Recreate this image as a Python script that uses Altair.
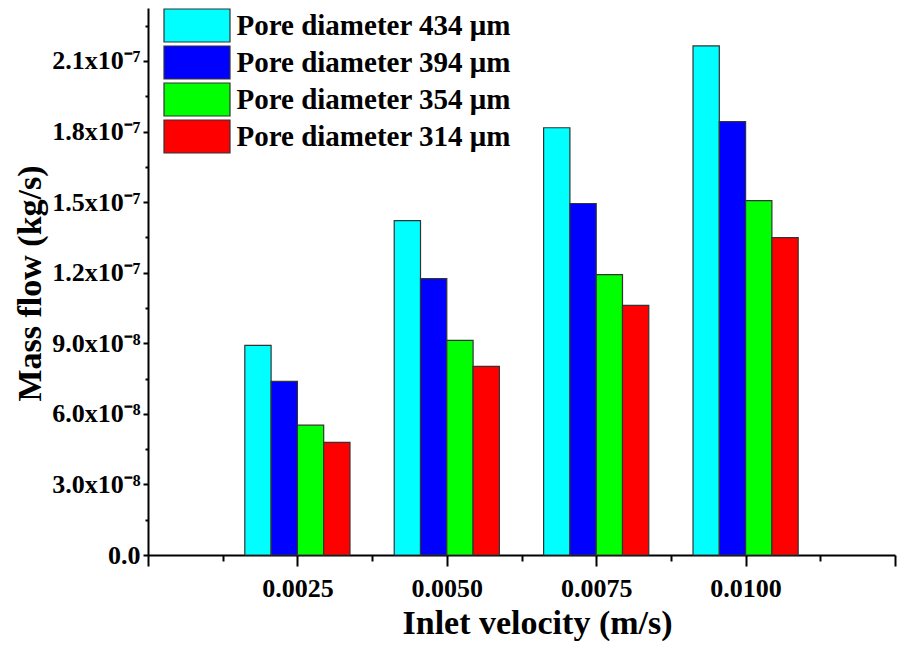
import json
import altair as alt
import pandas as pd

velocities = [0.0025, 0.0050, 0.0075, 0.0100]
series = ["Pore diameter 434 μm", "Pore diameter 394 μm",
          "Pore diameter 354 μm", "Pore diameter 314 μm"]
colors = ["#00FFFF", "#0000FF", "#00FF00", "#FF0000"]
mass_434 = [8.91e-8, 14.21e-8, 18.16e-8, 21.64e-8]
mass_394 = [7.38e-8, 11.75e-8, 14.94e-8, 18.42e-8]
mass_354 = [5.52e-8, 9.12e-8, 11.92e-8, 15.06e-8]
mass_314 = [4.79e-8, 8.02e-8, 10.61e-8, 13.49e-8]

x_tick_values = [0.0025, 0.0050, 0.0075, 0.0100]
x_tick_labels = ["0.0025", "0.0050", "0.0075", "0.0100"]
y_tick_values = [0.0, 3e-8, 6e-8, 9e-8, 1.2e-7, 1.5e-7, 1.8e-7, 2.1e-7]
y_tick_labels = ["0.0", "3.0x10⁻⁸", "6.0x10⁻⁸", "9.0x10⁻⁸",
                 "1.2x10⁻⁷", "1.5x10⁻⁷", "1.8x10⁻⁷", "2.1x10⁻⁷"]

# all tick positions (major + minor)
x_all_ticks = [round(i * 0.00125, 6) for i in range(11)]
y_all_ticks = [round(i * 1.5e-8, 12) for i in range(16)]
x_major = [0.0] + x_tick_values + [0.0125]

rows = []
for s_i, (name, vals) in enumerate(zip(series, [mass_434, mass_394, mass_354, mass_314])):
    for v, m in zip(velocities, vals):
        rows.append({"velocity": v, "series": name, "idx": s_i, "mass": m})
df = pd.DataFrame(rows)

BAR_W = 0.00044
FONT = "Liberation Serif"


def label_expr(vals, labels):
    v = json.dumps(vals)
    l = json.dumps(labels, ensure_ascii=False)
    return f"indexof({v}, datum.value) >= 0 ? {l}[indexof({v}, datum.value)] : ''"


x_axis = alt.Axis(
    values=x_all_ticks,
    labelExpr=label_expr(x_tick_values, x_tick_labels),
    tickSize={"condition": {"test": f"indexof({json.dumps(x_major)}, datum.value) >= 0", "value": 11}, "value": 6},
    tickWidth=2, domainWidth=2, domainColor="black", tickColor="black",
    labelFont=FONT, labelFontSize=26, labelFontWeight="bold", labelColor="black",
    labelBaseline="alphabetic", labelPadding=30, labelFlush=False, labelOverlap=False,
    grid=False,
    title="Inlet velocity (m/s)", titleFont=FONT, titleFontSize=34, titleFontWeight="bold",
    titleColor="black", titleX=389, titleY=78, titleAlign="center", titleBaseline="alphabetic",
)

y_axis = alt.Axis(
    values=y_all_ticks,
    labelExpr=label_expr(y_tick_values, y_tick_labels),
    tickSize={"condition": {"test": f"indexof({json.dumps(y_tick_values)}, datum.value) >= 0", "value": 5}, "value": 3},
    tickWidth=2, domainWidth=2, domainColor="black", tickColor="black",
    labelFont=FONT, labelFontSize=26, labelFontWeight="bold", labelColor="black",
    labelPadding=3, labelFlush=False, labelOverlap=False, labelBaseline="middle",
    grid=False,
    title="Mass flow (kg/s)", titleFont=FONT, titleFontSize=34, titleFontWeight="bold",
    titleColor="black", titleAngle=270, titleX=-108, titleY=275, titleAlign="center",
    titleBaseline="alphabetic",
)

legend = alt.Legend(
    orient="none", legendX=31.5, legendY=0, title=None, padding=0,
    symbolType="M-2,-1H2V1H-2Z", symbolSize=1089, symbolStrokeColor="#333",
    symbolStrokeWidth=1.2, symbolOpacity=1,
    labelFont=FONT, labelFontSize=29, labelFontWeight="bold", labelColor="black",
    labelOffset=22, rowPadding=-2.9, labelLimit=0,
)

chart = alt.Chart(df).transform_calculate(
    x0=f"datum.velocity + (datum.idx - 2) * {BAR_W}",
    x1=f"datum.velocity + (datum.idx - 1) * {BAR_W}",
).mark_rect(stroke="#333", strokeWidth=1.2, opacity=1).encode(
    x=alt.X("x0:Q", scale=alt.Scale(domain=[0, 0.0125], nice=False, zero=True), axis=x_axis),
    x2="x1:Q",
    y=alt.Y("mass:Q", scale=alt.Scale(domain=[0, 2.325e-7], nice=False), axis=y_axis),
    y2=alt.datum(0),
    color=alt.Color("series:N", scale=alt.Scale(domain=series, range=colors), legend=legend),
).properties(
    width=747, height=547,
    autosize=alt.AutoSizeParams(type="none"),
    padding={"left": 140, "top": 0, "right": 2, "bottom": 86},
    background="white",
).configure_view(stroke=None)

chart.save("out.html", embed_options={"renderer": "svg", "actions": False})
